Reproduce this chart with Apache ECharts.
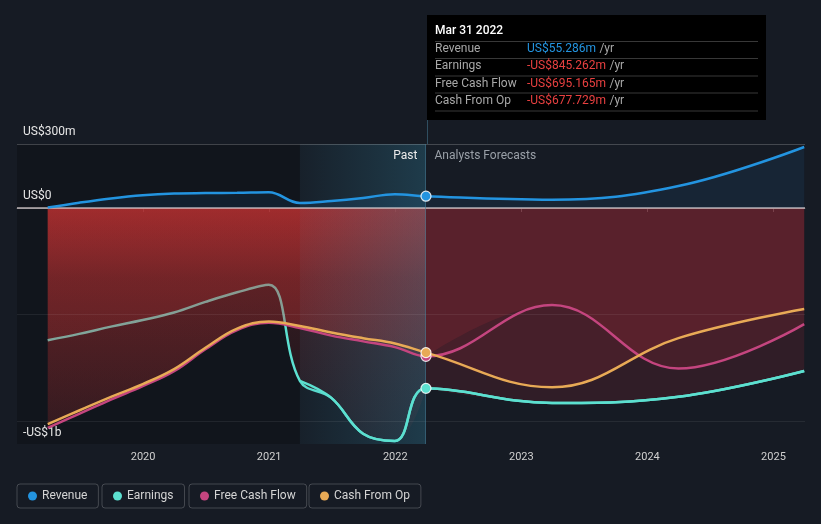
<!DOCTYPE html>
<html>
<head>
<meta charset="utf-8">
<script src="https://cdn.jsdelivr.net/npm/echarts@6/dist/echarts.min.js"></script>
<style>
html,body{margin:0;padding:0;background:#161b24;}
#c{width:821px;height:524px;}
</style>
</head>
<body>
<div id="c"></div>
<script>
// ---------- data ----------
const pastDates = ['2019-03-31','2019-06-30','2019-09-30','2019-12-31','2020-03-31','2020-06-30','2020-09-30','2020-12-31','2021-03-31','2021-06-30','2021-09-30','2021-12-31','2022-03-31'];
const forecastDates = ['2023-03-31','2024-03-31','2025-03-31'];

const revenuePast = [2, 25, 45, 60, 68, 70, 71, 74, 24, 33, 47, 65, 55.286];
const revenueForecast = [39, 103, 286];

const earningsPast = [-620, -590, -556, -525, -490, -440, -395, -360, -810, -890, -1058, -1092, -845.262];
const earningsForecast = [-914, -885, -764];

const fcfPast = [-1030, -965, -898, -835, -765, -662, -572, -538, -562, -598, -625, -652, -695.165];
const fcfForecast = [-455, -752, -544];

const cfoPast = [-1013, -949, -885, -825, -755, -655, -565, -532, -553, -583, -610, -635, -677.729];
const cfoForecast = [-840, -610, -473];

const seriesNames = ['Revenue', 'Earnings', 'Free Cash Flow', 'Cash From Op'];
const seriesColors = ['#2394e0', '#5ce0d0', '#c4457f', '#e8aa56'];

const yTickValues = [300, 0, -1000];
const yTickLabels = ['US$300m', 'US$0', '-US$1b'];
const yGridValues = [300, -500, -1000];
const xTickYears = [2020, 2021, 2022, 2023, 2024, 2025];

// ---------- helpers ----------
function toYear(s) {
  const d = new Date(s + 'T00:00:00Z');
  const y = d.getUTCFullYear();
  const a = Date.UTC(y, 0, 1), b = Date.UTC(y + 1, 0, 1);
  return y + (d.getTime() - a) / (b - a);
}
const px = pastDates.map(toYear);
const fx = forecastDates.map(toYear);
const last = px.length - 1;
const xPresent = px[last];
const allX = px.concat(fx);
const pair = (xs, ys) => xs.map((x, i) => [x, ys[i]]);
const fullData = (p, f) => pair(allX, p.concat(f));
const pastData = (p) => pair(px, p);
const fcData = (p, f) => pair([xPresent].concat(fx), [p[last]].concat(f));

const monthNames = ['Jan','Feb','Mar','Apr','May','Jun','Jul','Aug','Sep','Oct','Nov','Dec'];
function fmtDate(s) {
  const d = new Date(s + 'T00:00:00Z');
  return monthNames[d.getUTCMonth()] + ' ' + d.getUTCDate() + ' ' + d.getUTCFullYear();
}
function fmtVal(v) {
  return (v < 0 ? '-' : '') + 'US$' + Math.abs(v).toFixed(3) + 'm';
}

const FONT = 'Roboto, "Noto Sans", sans-serif';
const SMOOTH = 0.4;

function vgrad(stops) {
  return { type: 'linear', x: 0, y: 0, x2: 0, y2: 1,
    colorStops: stops.map(s => ({ offset: s[0], color: 'rgba(200,50,50,' + s[1] + ')' })) };
}
const fcFill = 'rgba(200,50,58,0.15)';

function fillSeries(name, data, areaColor, z) {
  return {
    name: name, type: 'line', data: data, z: z, smooth: SMOOTH,
    symbol: 'none', lineStyle: { width: 0, opacity: 0 }, areaStyle: { color: areaColor, opacity: 1 },
    silent: true, legendHoverLink: false
  };
}
function lineSeries(name, data, color, z, dot) {
  const s = {
    name: name, type: 'line', data: data, z: z, smooth: SMOOTH,
    symbol: 'none', lineStyle: { width: 2.5, color: color }, itemStyle: { color: color },
    silent: true
  };
  if (dot) {
    s.markPoint = {
      z: 7, silent: true, animation: false,
      symbol: 'circle', symbolSize: 10,
      itemStyle: { color: color, borderColor: 'rgba(255,255,255,0.85)', borderWidth: 1.2 },
      label: { show: false },
      data: [{ coord: dot }]
    };
  }
  return s;
}

const presentVals = [revenuePast[last], earningsPast[last], fcfPast[last], cfoPast[last]];

// ---------- tooltip box (static) ----------
const tipLeft = 427, tipTop = 15, tipW = 339, tipH = 105;
const tipChildren = [
  { type: 'rect', shape: { x: 0, y: 0, width: tipW, height: tipH }, style: { fill: '#000' } },
  { type: 'text', x: 8, y: 16, style: { text: fmtDate(pastDates[last]), fill: '#ffffff', font: '500 12px ' + FONT, verticalAlign: 'middle' } }
];
const rowY = [34, 51, 69, 86];
const sepY = [26.5, 43.5, 61, 78, 96];
sepY.forEach(y => tipChildren.push({ type: 'line', shape: { x1: 8, y1: y, x2: 331, y2: y }, style: { stroke: 'rgba(255,255,255,0.22)', lineWidth: 1 } }));
seriesNames.forEach((n, i) => {
  const v = presentVals[i];
  tipChildren.push({ type: 'text', x: 8, y: rowY[i], style: { text: n, fill: '#a8a8a8', font: '12px ' + FONT, verticalAlign: 'middle' } });
  tipChildren.push({ type: 'text', x: 100, y: rowY[i], style: {
    text: '{v|' + fmtVal(v) + '} {u|/yr}', verticalAlign: 'middle',
    rich: { v: { fill: v < 0 ? '#e84040' : '#2394e0', font: '12px ' + FONT }, u: { fill: '#a8a8a8', font: '12px ' + FONT } }
  } });
});

const chart = echarts.init(document.getElementById('c'), null, { renderer: 'canvas' });

const legends = seriesNames.map((n, i) => ({
  data: [n], left: [17, 102, 189, 309][i], top: 484,
  orient: 'horizontal', icon: 'circle', itemWidth: 9, itemHeight: 9, itemGap: 0, itemTextGap: 9,
  padding: [6, 11, 6, 11], borderColor: 'rgba(255,255,255,0.2)', borderWidth: 1, borderRadius: 3,
  textStyle: { color: '#d4d4d4', fontSize: 12, fontFamily: FONT },
  selectedMode: false
}));

function tickLabelFor(v) {
  const i = yTickValues.indexOf(v);
  if (i < 0) return { show: false };
  return { show: true, formatter: yTickLabels[i], position: v < -500 ? 'insideStartBottom' : 'insideStartTop',
    distance: 6, color: '#e6e6e6', fontSize: 12, fontFamily: FONT };
}

const markLineData = yGridValues.map(v => ({ yAxis: v,
    lineStyle: { type: 'solid', width: 1, color: v === 300 ? 'rgba(255,255,255,0.2)' : 'rgba(255,255,255,0.07)' },
    label: tickLabelFor(v) }))
  .concat([{ yAxis: 0, lineStyle: { type: 'solid', width: 1.5, color: 'rgba(215,205,205,0.85)' }, label: tickLabelFor(0) },
           { xAxis: xPresent, lineStyle: { type: 'solid', width: 1, color: 'rgba(70,120,145,0.55)' }, label: { show: false } }]);

const option = {
  backgroundColor: '#161b24',
  animation: false,
  textStyle: { fontFamily: FONT },
  grid: { left: 17, right: 16, top: 144, bottom: 80, containLabel: false },
  legend: legends,
  xAxis: {
    type: 'value', min: 2019, max: 2025.25, interval: 1,
    axisLine: { show: true, lineStyle: { color: '#4a4f58', width: 1 } },
    axisTick: { show: true, length: 4, lineStyle: { color: '#4a4f58' } },
    axisLabel: { show: true, color: '#d0d0d0', fontSize: 11, margin: 8, fontFamily: FONT,
      showMinLabel: false, showMaxLabel: false,
      formatter: v => (xTickYears.indexOf(Math.round(v)) >= 0 && Math.abs(v - Math.round(v)) < 1e-6) ? String(Math.round(v)) : '' },
    splitLine: { show: false }
  },
  yAxis: { type: 'value', min: -1106, max: 300, show: false, splitLine: { show: false } },
  series: [
    { name: 'zone', type: 'line', data: [], z: 0, silent: true,
      markArea: { z: 0, silent: true, itemStyle: { color: 'rgba(0,0,0,0.22)' },
        data: [[{ xAxis: 2019 }, { xAxis: px[8] }]] } },
    Object.assign(lineSeries('Revenue', fullData(revenuePast, revenueForecast), seriesColors[0], 5, [xPresent, revenuePast[last]]),
      { areaStyle: { color: 'rgba(33,150,243,0.12)' } }),
    fillSeries('EarningsFillPast', pastData(earningsPast), vgrad([[0, 0.55], [0.3, 0.2], [1, 0.06]]), 1),
    fillSeries('EarningsFillFc', fcData(earningsPast, earningsForecast), fcFill, 1),
    lineSeries('Earnings', fullData(earningsPast, earningsForecast), seriesColors[1], 2, null),
    fillSeries('FcfFillPast', pastData(fcfPast), vgrad([[0, 0.3], [1, 0.1]]), 3),
    fillSeries('FcfFillFc', fcData(fcfPast, fcfForecast), fcFill, 3),
    fillSeries('CfoFillPast', pastData(cfoPast), vgrad([[0, 0.3], [1, 0.1]]), 3),
    fillSeries('CfoFillFc', fcData(cfoPast, cfoForecast), fcFill, 3),
    { name: 'overlay', type: 'line', data: [], z: 4, silent: true,
      markArea: { z: 4, silent: true,
        itemStyle: { color: { type: 'linear', x: 0, y: 0, x2: 1, y2: 0,
          colorStops: [{ offset: 0, color: 'rgba(50,135,165,0.05)' }, { offset: 1, color: 'rgba(50,135,165,0.3)' }] } },
        data: [[{ xAxis: px[8] }, { xAxis: xPresent }]] },
      markLine: { z: 4.5, silent: true, symbol: ['none', 'none'], animation: false,
        lineStyle: { type: 'solid', width: 1 },
        data: markLineData },
      markPoint: { z: 8, silent: true, animation: false, symbol: 'rect', symbolSize: 1,
        itemStyle: { color: 'rgba(0,0,0,0)' },
        data: [
          { coord: [xPresent, 244], label: { show: true, formatter: 'Past', position: 'left', distance: 8, color: '#ececec', fontSize: 12, fontFamily: FONT } },
          { coord: [xPresent, 244], label: { show: true, formatter: 'Analysts Forecasts', position: 'right', distance: 8, color: '#9aa0a8', fontSize: 12, fontFamily: FONT } }
        ] } },
    lineSeries('Free Cash Flow', fullData(fcfPast, fcfForecast), seriesColors[2], 5, [xPresent, fcfPast[last]]),
    lineSeries('Cash From Op', fullData(cfoPast, cfoForecast), seriesColors[3], 5.2, [xPresent, cfoPast[last]]),
    lineSeries('Earnings', pair(allX.slice(8), earningsPast.slice(8).concat(earningsForecast)), seriesColors[1], 5, [xPresent, earningsPast[last]])
  ],
  graphic: [
    { type: 'group', left: tipLeft, top: tipTop, children: tipChildren, z: 100 },
    { type: 'line', shape: { x1: 427.5, y1: tipTop + tipH, x2: 427.5, y2: 144 }, style: { stroke: 'rgba(70,120,145,0.55)', lineWidth: 1 }, z: 100 }
  ]
};
chart.setOption(option);
</script>
</body>
</html>
